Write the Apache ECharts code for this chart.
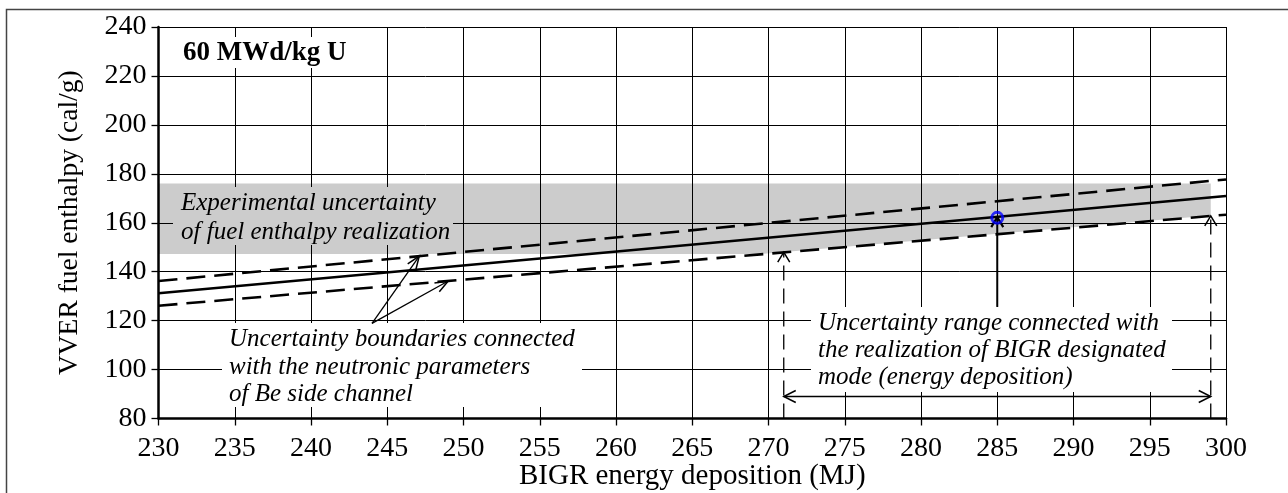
<!DOCTYPE html>
<html>
<head>
<meta charset="utf-8">
<script src="https://cdn.jsdelivr.net/npm/echarts@6/dist/echarts.min.js"></script>
<style>
html,body{margin:0;padding:0;background:#ffffff;}
#chart{width:1288px;height:493px;}
</style>
</head>
<body>
<div id="chart"></div>
<script>
// ---- axis ranges ----
const xMin = 230, xMax = 300, xStep = 5;
const yMin = 80, yMax = 240, yStep = 20;

// ---- data ----
const energy = [230, 300];                    // BIGR energy deposition (MJ)
const enthalpyCentral = [131.2, 170.9];       // solid line
const enthalpyUpper = [136.2, 177.7];         // upper uncertainty boundary (dashed)
const enthalpyLower = [126.1, 163.3];         // lower uncertainty boundary (dashed)

const bandEnergy = [230, 269.5, 299];         // experimental uncertainty band
const bandTop = [176, 176, 176];
const bandBottom = [147.2, 147.2, 163.0];

const designEnergy = [285];                   // designated mode point
const designEnthalpy = [162];

// annotation arrows (data coordinates: [energy, enthalpy])
const arrowFrom = [[244.0, 118.9], [244.0, 118.9], [271, 80], [299, 80], [285, 125.6], [271, 89]];
const arrowTo   = [[247.1, 146.4], [249.0, 136.2], [271, 148.0], [299, 162.8], [285, 162.3], [299, 89]];
const arrowKind = ['thin', 'thin', 'dashed', 'dashed', 'solid', 'double'];

// ---- styles ----
const SERIF = '"Liberation Serif", "Times New Roman", serif';
const arrowStyles = {
  thin:   {lineWidth: 1.3, dash: null, headLen: 13, headHalf: 5, both: false},
  dashed: {lineWidth: 1.3, dash: [15, 8], headLen: 10, headHalf: 6, both: false},
  solid:  {lineWidth: 2, dash: null, headLen: 10, headHalf: 6, both: false},
  double: {lineWidth: 1.3, dash: null, headLen: 12, headHalf: 6, both: true}
};

function pairs(xs, ys) { return xs.map((x, i) => [x, ys[i]]); }

function headPoints(tip, tail, len, half) {
  const dx = tip[0] - tail[0], dy = tip[1] - tail[1];
  const d = Math.sqrt(dx * dx + dy * dy) || 1;
  const ux = dx / d, uy = dy / d;
  const bx = tip[0] - ux * len, by = tip[1] - uy * len;
  return [[bx - uy * half, by + ux * half], [tip[0], tip[1]], [bx + uy * half, by - ux * half]];
}

const chart = echarts.init(document.getElementById('chart'), null, {renderer: 'canvas'});

const axisCommon = {
  type: 'value',
  z: 1,
  nameMoveOverlap: false,
  axisLine: {show: true, onZero: false, lineStyle: {color: '#000', width: 2.5}},
  axisTick: {show: true, inside: false, length: 7, lineStyle: {color: '#000', width: 1.3}},
  splitLine: {show: true, lineStyle: {color: '#000', width: 1}},
  axisLabel: {color: '#000', fontFamily: SERIF, fontSize: 28, showMinLabel: true, showMaxLabel: true},
  nameTextStyle: {color: '#000', fontFamily: SERIF, fontSize: 29}
};

const option = {
  animation: false,
  backgroundColor: '#ffffff',
  grid: {left: 158.5, top: 27, width: 1067.5, height: 391.5, show: false, containLabel: false, outerBoundsMode: 'none'},
  xAxis: Object.assign({}, axisCommon, {
    min: xMin, max: xMax, interval: xStep,
    name: 'BIGR energy deposition (MJ)', nameLocation: 'middle', nameGap: 43,
    axisLabel: Object.assign({}, axisCommon.axisLabel, {margin: 16})
  }),
  yAxis: Object.assign({}, axisCommon, {
    min: yMin, max: yMax, interval: yStep,
    name: 'VVER fuel enthalpy (cal/g)', nameLocation: 'middle', nameGap: 75, nameRotate: 90,
    nameTextStyle: {color: '#000', fontFamily: SERIF, fontSize: 27.5},
    axisLabel: Object.assign({}, axisCommon.axisLabel, {margin: 12})
  }),
  graphic: [
    // outer frame
    {type: 'rect', z: 0, silent: true, shape: {x: 6.5, y: 9.5, width: 1300, height: 520},
     style: {fill: 'none', stroke: '#444', lineWidth: 1.5}},
    // "60 MWd/kg U"
    {type: 'rect', z: 2, silent: true, shape: {x: 180, y: 37, width: 172, height: 31}, style: {fill: '#fff'}},
    {type: 'text', z: 2, silent: true, x: 183, y: 53,
     style: {text: '60 MWd/kg U', font: 'bold 27px ' + SERIF, fill: '#000', verticalAlign: 'middle', align: 'left'}},
    // experimental uncertainty label (grey box)
    {type: 'rect', z: 2, silent: true, shape: {x: 173, y: 187, width: 280, height: 58}, style: {fill: '#cccccc'}},
    {type: 'text', z: 2, silent: true, x: 181, y: 188.5,
     style: {text: 'Experimental uncertainty\nof fuel enthalpy realization', font: 'italic 25px ' + SERIF,
             lineHeight: 29, fill: '#000', verticalAlign: 'top', align: 'left'}},
    // uncertainty boundaries label
    {type: 'rect', z: 2, silent: true, shape: {x: 222, y: 323, width: 360, height: 84}, style: {fill: '#fff'}},
    {type: 'text', z: 2, silent: true, x: 229, y: 326,
     style: {text: 'Uncertainty boundaries connected\nwith the neutronic parameters\nof Be side channel',
             font: 'italic 25px ' + SERIF, lineHeight: 27.5, fill: '#000', verticalAlign: 'top', align: 'left'}},
    // uncertainty range label
    {type: 'rect', z: 2, silent: true, shape: {x: 811, y: 307, width: 361, height: 85}, style: {fill: '#fff'}},
    {type: 'text', z: 2, silent: true, x: 818, y: 309.5,
     style: {text: 'Uncertainty range connected with\nthe realization of BIGR designated\nmode (energy deposition)',
             font: 'italic 25px ' + SERIF, lineHeight: 27, fill: '#000', verticalAlign: 'top', align: 'left'}}
  ],
  series: [
    {
      name: 'Experimental uncertainty band',
      type: 'custom', z: 0, silent: true,
      data: [[bandEnergy[0], bandTop[0]]],
      encode: {x: 0, y: 1},
      renderItem: function (params, api) {
        const top = bandEnergy.map((x, i) => api.coord([x, bandTop[i]]));
        const bottom = bandEnergy.map((x, i) => api.coord([x, bandBottom[i]])).reverse();
        return {type: 'polygon', shape: {points: top.concat(bottom)}, style: {fill: '#cccccc'}};
      }
    },
    {
      name: 'Upper boundary', type: 'line', z: 3, silent: true, symbol: 'none',
      data: pairs(energy, enthalpyUpper),
      lineStyle: {color: '#000', width: 2.6, type: [19, 9]}
    },
    {
      name: 'Lower boundary', type: 'line', z: 3, silent: true, symbol: 'none',
      data: pairs(energy, enthalpyLower),
      lineStyle: {color: '#000', width: 2.6, type: [19, 9]}
    },
    {
      name: 'Central', type: 'line', z: 3, silent: true, symbol: 'none',
      data: pairs(energy, enthalpyCentral),
      lineStyle: {color: '#000', width: 2.6}
    },
    {
      name: 'Annotation arrows', type: 'custom', z: 4, silent: true,
      data: arrowFrom.map(p => [p[0], p[1]]),
      encode: {x: 0, y: 1},
      renderItem: function (params, api) {
        const i = params.dataIndex;
        const st = arrowStyles[arrowKind[i]];
        const p0 = api.coord(arrowFrom[i]);
        const p1 = api.coord(arrowTo[i]);
        const children = [{
          type: 'line', shape: {x1: p0[0], y1: p0[1], x2: p1[0], y2: p1[1]},
          style: {stroke: '#000', lineWidth: st.lineWidth, lineDash: st.dash}
        }];
        children.push({type: 'polyline', shape: {points: headPoints(p1, p0, st.headLen, st.headHalf)},
                       style: {stroke: '#000', lineWidth: st.lineWidth + 0.2, fill: 'none'}});
        if (st.both) {
          children.push({type: 'polyline', shape: {points: headPoints(p0, p1, st.headLen, st.headHalf)},
                         style: {stroke: '#000', lineWidth: st.lineWidth + 0.2, fill: 'none'}});
        }
        return {type: 'group', children: children};
      }
    },
    {
      name: 'Designated mode', type: 'scatter', z: 5, silent: true,
      data: pairs(designEnergy, designEnthalpy),
      symbol: 'circle', symbolSize: 11,
      itemStyle: {color: 'rgba(0,0,0,0)', borderColor: '#0000ff', borderWidth: 3}
    }
  ]
};

chart.setOption(option);
</script>
</body>
</html>
